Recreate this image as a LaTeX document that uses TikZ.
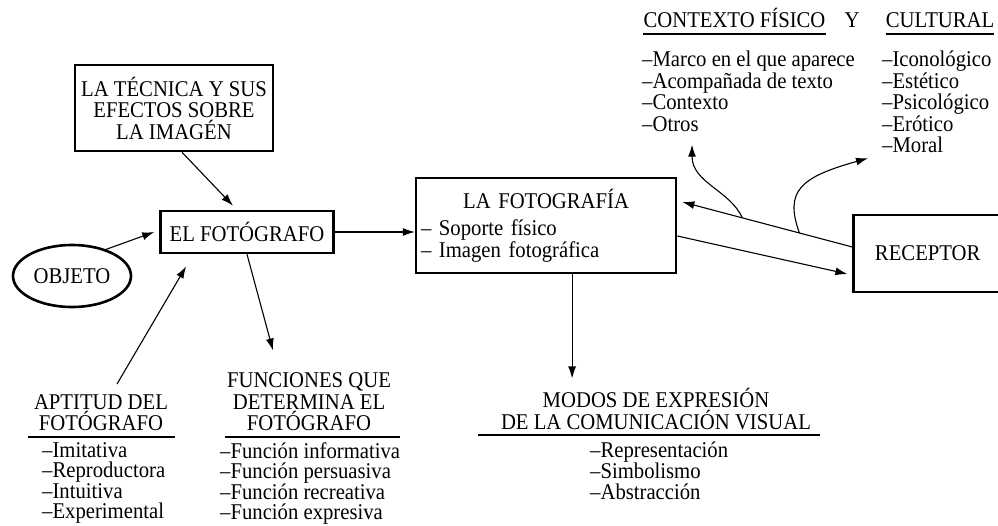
\documentclass[tikz,border=0pt]{standalone}
\usepackage{fontspec}
\setmainfont{Liberation Serif}[FakeStretch=0.92]
\usetikzlibrary{shapes,arrows.meta,positioning,calc}

\begin{document}
\begin{tikzpicture}[
    x=1pt, y=-1pt,
    font=\fontsize{22.5}{21.5}\selectfont,
    box/.style = {rectangle, draw, line width=2.6pt, align=center, inner xsep=2pt},
    oval/.style = {ellipse, draw, line width=2.6pt, minimum width=118pt, minimum height=62pt, inner sep=0pt},
    line/.style = {draw, line width=1.1pt, -{Latex[length=12pt,width=8pt]}},
    head/.style = {align=center, inner sep=0pt, anchor=south},
    list/.style = {align=left, inner sep=0pt, anchor=north west},
    rule/.style = {draw, line width=1.4pt}
]
\useasboundingbox (0,0) rectangle (998,525);

\node[box, minimum width=198pt, minimum height=86pt] (tecnica) at (174,108) {LA TÉCNICA Y SUS\\EFECTOS SOBRE\\LA IMAGÉN};
\node[box, minimum width=173pt, minimum height=42pt] (fotografo) at (247,232) {EL FOTÓGRAFO};
\node[oval] (objeto) at (72,276) {OBJETO};
\node[box, right=80pt of fotografo, yshift=6.5pt, text width=250pt, inner xsep=5pt, minimum height=95pt, align=left] (fotografia)
    {\makebox[\linewidth][c]{LA FOTOGRAFÍA}\\[6pt]– Soporte físico\\– Imagen fotográfica};
\node[box, right=175pt of fotografia, yshift=-28pt, minimum width=148pt, minimum height=77pt] (receptor) {RECEPTOR};

\node[head] (aptitud) at (101,431) {APTITUD DEL\\FOTÓGRAFO};
\node[list, font=\fontsize{22.5}{20.6}\selectfont] (aptlist) at (42,442) {–Imitativa\\–Reproductora\\–Intuitiva\\–Experimental};
\node[head] (funciones) at (309,431) {FUNCIONES QUE\\DETERMINA EL\\FOTÓGRAFO};
\node[list, font=\fontsize{22.5}{20.6}\selectfont] (funlist) at (220,442) {–Función informativa\\–Función persuasiva\\–Función recreativa\\–Función expresiva};
\node[head] (modos) at (656,430) {MODOS DE EXPRESIÓN\\DE LA COMUNICACIÓN VISUAL};
\node[list, font=\fontsize{22.5}{20.6}\selectfont] (modlist) at (590,442) {–Representación\\–Simbolismo\\–Abstracción};
\node[head] (fisico) at (734.5,28) {CONTEXTO FÍSICO};
\node[head] (ytext) at (852,28) {Y};
\node[head] (cultural) at (940,28) {CULTURAL};
\node[list] (fislist) at (642,51) {–Marco en el que aparece\\–Acompañada de texto\\–Contexto\\–Otros};
\node[list] (cultlist) at (882,51) {–Iconológico\\–Estético\\–Psicológico\\–Erótico\\–Moral};

\draw[rule] ([xshift=-6pt,yshift=-6pt]aptitud.south west) -- ([xshift=7pt,yshift=-6pt]aptitud.south east);
\draw[rule] ([xshift=-2pt,yshift=-6pt]funciones.south west) -- ([xshift=9pt,yshift=-6pt]funciones.south east);
\draw[rule] ([xshift=-23pt,yshift=-5pt]modos.south west) -- ([xshift=9pt,yshift=-5pt]modos.south east);
\draw[rule] ([yshift=-6pt]fisico.south west) -- ([yshift=-6pt]fisico.south east);
\draw[rule] ([yshift=-6pt]cultural.south west) -- ([yshift=-6pt]cultural.south east);

\coordinate (fistip) at ([xshift=50pt,yshift=-13pt]fislist.south west);
\coordinate (culttip) at ([xshift=-14pt,yshift=-5pt]cultlist.south west);

\path[line] ([xshift=8pt]tecnica.south) -- ([xshift=-14pt,yshift=4pt]fotografo.north);
\path[line] (objeto.38) -- ([xshift=-5pt]fotografo.west);
\path[line, shorten >=14pt] ([xshift=16pt,yshift=10pt]aptitud.north) -- ([xshift=34pt]fotografo.south west);
\path[line] (fotografo.south) -- ([xshift=-36pt,yshift=22pt]funciones.north);
\path[line] (fotografo.east) -- (fotografo.east -| fotografia.west);
\path[line, shorten >=10pt] ([xshift=26pt]fotografia.south) -- ([xshift=26pt]fotografia.south |- modos.north);
\path[line] ([yshift=-10.5pt]fotografia.east) -- ([xshift=-5pt,yshift=-20.5pt]receptor.west);
\path[line] ([yshift=6.5pt]receptor.west) -- ([xshift=5pt,yshift=23.5pt]fotografia.east)
    coordinate[pos=0.647] (c1) coordinate[pos=0.312] (c2);
\path[line] (c1) .. controls +(-13,-28) and +(0,38) .. (fistip);
\path[line] (c2) .. controls +(-15,-42) and +(-68,19) .. (culttip);
\end{tikzpicture}
\end{document}
